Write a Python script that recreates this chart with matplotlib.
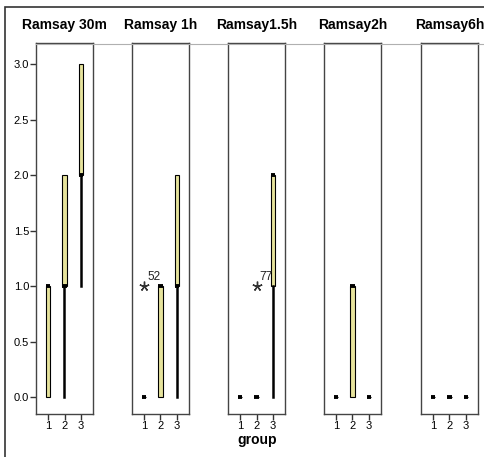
import matplotlib
matplotlib.use("Agg")
import matplotlib.pyplot as plt
from matplotlib.patches import Rectangle
from matplotlib.lines import Line2D

plt.rcParams["font.family"] = ["Liberation Sans", "DejaVu Sans"]

panel_titles = ["Ramsay 30m", "Ramsay 1h", "Ramsay1.5h", "Ramsay2h", "Ramsay6h"]
groups = [1, 2, 3]

# per panel, per group: lower whisker, q1, median, q3, upper whisker
whislo = [[0, 0, 1], [0, 0, 0], [0, 0, 0], [0, 0, 0], [0, 0, 0]]
q1 = [[0, 1, 2], [0, 0, 1], [0, 0, 1], [0, 0, 0], [0, 0, 0]]
med = [[1, 1, 2], [0, 1, 1], [0, 0, 2], [0, 1, 0], [0, 0, 0]]
q3 = [[1, 2, 3], [0, 1, 2], [0, 0, 2], [0, 1, 0], [0, 0, 0]]
whishi = [[1, 2, 3], [0, 1, 2], [0, 0, 2], [0, 1, 0], [0, 0, 0]]

# outliers: (panel, group, value, case label)
outlier_panel = [1, 2]
outlier_group = [1, 2]
outlier_value = [1.0, 1.0]
outlier_label = ["52", "77"]

y_ticks = [0.0, 0.5, 1.0, 1.5, 2.0, 2.5, 3.0]

W, H = 485, 457
fig = plt.figure(figsize=(W / 100, H / 100), dpi=100)

# outer frame and title strip line
fig.add_artist(Rectangle((5 / W, -0.01), 1.0, 1 - 7 / H + 0.01, transform=fig.transFigure,
                         fill=False, edgecolor="#333333", linewidth=1.2))
fig.add_artist(Line2D([36 / W, 1.0], [1 - 44 / H, 1 - 44 / H], transform=fig.transFigure,
                      color="#b0b0b0", linewidth=0.8))

lefts = [36, 132, 228, 324, 421]
pw, top, bottom = 57, 43, 414
box_color = "#e6e39c"

for i, title in enumerate(panel_titles):
    ax = fig.add_axes([lefts[i] / W, (H - bottom) / H, pw / W, (bottom - top) / H])
    stats = []
    for j in range(3):
        stats.append({
            "whislo": whislo[i][j], "q1": q1[i][j], "med": med[i][j],
            "q3": q3[i][j], "whishi": whishi[i][j], "fliers": [],
        })
    ax.bxp(stats, positions=groups, widths=0.3, patch_artist=True, showcaps=False,
           boxprops=dict(facecolor=box_color, edgecolor="black", linewidth=0.8),
           medianprops=dict(color="black", linewidth=2.8, solid_capstyle="butt"),
           whiskerprops=dict(color="black", linewidth=1.8))
    for p, g, v, lab in zip(outlier_panel, outlier_group, outlier_value, outlier_label):
        if p == i:
            ax.plot(g, v, marker=(5, 2, 0), markersize=7, color="#333333",
                    markeredgewidth=1.0, linestyle="none")
            ax.text(g + 0.2, v + 0.03, lab, fontsize=8.5, color="#222222",
                    ha="left", va="bottom")
    ax.set_xlim(0.27, 3.73)
    ax.set_ylim(-0.15, 3.19)
    ax.set_xticks(groups)
    ax.set_xticklabels([str(g) for g in groups], fontsize=8)
    for s in ax.spines.values():
        s.set_color("#444444")
        s.set_linewidth(1.0)
    ax.tick_params(axis="x", length=4, width=1.0, pad=1, color="#333333")
    if i == 0:
        ax.set_yticks(y_ticks)
        ax.set_yticklabels([f"{t:.1f}" for t in y_ticks], fontsize=8)
        ax.tick_params(axis="y", length=4, width=1.0, pad=1, color="#333333")
    else:
        ax.set_yticks([])
    ax.text(0.5, 1 + 18 / (bottom - top), title, transform=ax.transAxes, ha="center",
            va="center", fontsize=10, fontweight="bold")

fig.text(257 / W, 1 - 440 / H, "group", ha="center", va="center", fontsize=10,
         fontweight="bold")

fig.savefig("out.png", dpi=100)
